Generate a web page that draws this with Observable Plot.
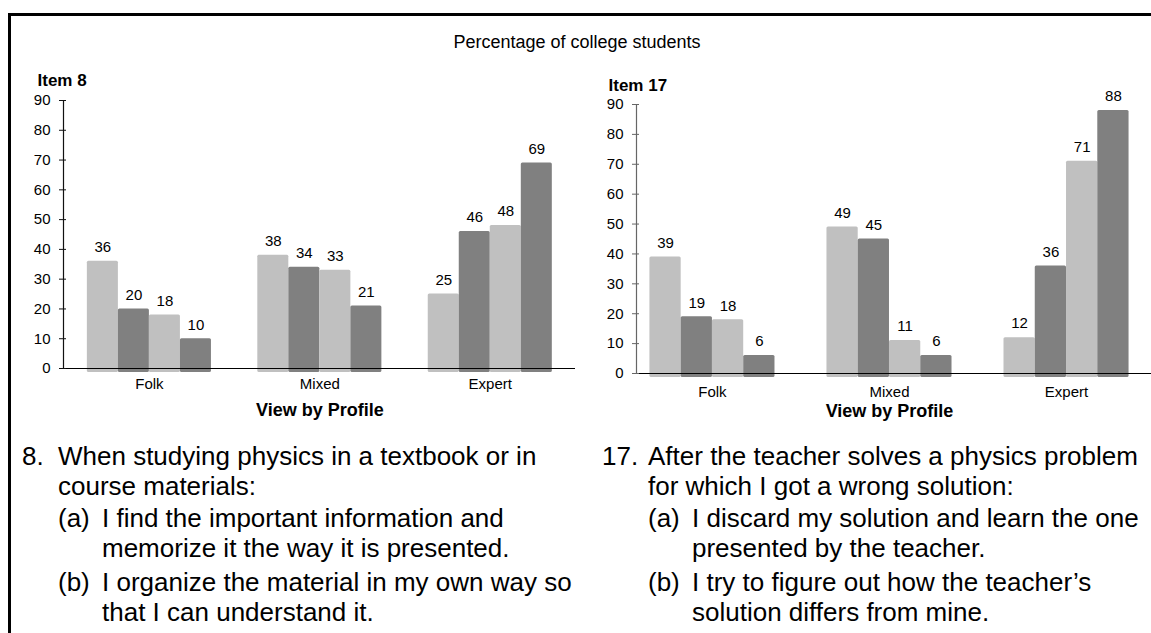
<!DOCTYPE html>
<html>
<head>
<meta charset="utf-8">
<script src="https://cdn.jsdelivr.net/npm/d3@7"></script>
<script src="https://cdn.jsdelivr.net/npm/@observablehq/plot@0.6"></script>
<style>
  html, body { margin: 0; padding: 0; background: #fff; }
  body { font-family: "Liberation Sans", Arial, sans-serif; color: #000; }
  #page { position: relative; width: 1151px; height: 633px; overflow: hidden; background: #fff; }
  #frame { position: absolute; left: 8px; top: 13px; width: 1200px; height: 700px;
           border-top: 3px solid #000; border-left: 3px solid #000; }
  #title { position: absolute; left: 0; width: 1154px; top: 31px; text-align: center; font-size: 18px; line-height: 22px; }
  .panel { position: absolute; top: 60px; }
  .line { position: absolute; font-size: 26px; line-height: 30px; white-space: nowrap; }
</style>
</head>
<body>
<div id="page">
  <div id="frame"></div>
  <div id="title"></div>
  <div id="left" class="panel" style="left:0px"></div>
  <div id="right" class="panel" style="left:580px"></div>
  <div id="text"></div>
</div>
<script>
// ---- data ----
const chartTitle = "Percentage of college students";
const xTitle = "View by Profile";
const profiles = ["Folk", "Mixed", "Expert"];
const yTicks = [0, 10, 20, 30, 40, 50, 60, 70, 80, 90];
const barColors = ["#c0c0c0", "#808080", "#c0c0c0", "#808080"];
// four bars per profile, values per profile (Folk, Mixed, Expert)
const item8Folk = [36, 20, 18, 10];
const item8Mixed = [38, 34, 33, 21];
const item8Expert = [25, 46, 48, 69];
const item17Folk = [39, 19, 18, 6];
const item17Mixed = [49, 45, 11, 6];
const item17Expert = [12, 36, 71, 88];

const question8 = [
  ["8.", "When studying physics in a textbook or in"],
  ["", "course materials:"]
];
const options8 = [
  ["(a)", "I find the important information and"],
  ["", "memorize it the way it is presented."],
  ["(b)", "I organize the material in my own way so"],
  ["", "that I can understand it."]
];
const question17 = [
  ["17.", "After the teacher solves a physics problem"],
  ["", "for which I got a wrong solution:"]
];
const options17 = [
  ["(a)", "I discard my solution and learn the one"],
  ["", "presented by the teacher."],
  ["(b)", "I try to figure out how the teacher\u2019s"],
  ["", "solution differs from mine."]
];

document.getElementById("title").textContent = chartTitle;

function rowsOf(groups) {
  const rows = [];
  groups.forEach((vals, pi) => vals.forEach((v, s) => rows.push({profile: profiles[pi], pi, s, value: v})));
  return rows;
}

function panel(cfg) {
  const rows = rowsOf(cfg.groups);
  const w = cfg.barW;
  const x0 = cfg.xDomain[0];
  return Plot.plot({
    width: cfg.width, height: cfg.height,
    marginLeft: cfg.marginLeft, marginRight: cfg.marginRight,
    marginTop: cfg.marginTop, marginBottom: cfg.marginBottom,
    style: {fontFamily: "'Liberation Sans', Arial, sans-serif", fontSize: "15px", color: "#000", background: "transparent", overflow: "visible"},
    x: {type: "linear", domain: cfg.xDomain, axis: null},
    y: {domain: [0, 90], axis: null},
    marks: [
      Plot.rectY(rows, {
        x1: d => d.pi + (d.s - 2) * w,
        x2: d => d.pi + (d.s - 1) * w,
        y1: 0, y2: "value",
        fill: d => barColors[d.s],
        insetBottom: -4, rx: 1.5
      }),
      Plot.ruleY([0], {stroke: "#000", strokeWidth: 1.2}),
      Plot.ruleX([x0], {stroke: cfg.axisColor, strokeWidth: 1.2}),
      Plot.axisY({ticks: yTicks, tickSize: 4, tickPadding: 9, stroke: cfg.axisColor, label: null, fontSize: 15}),
      Plot.ruleY(yTicks, {y: d => d, x1: x0, x2: x0, insetRight: -3, stroke: cfg.axisColor}),
      Plot.text(rows, {
        x: d => d.pi + (d.s - 1.5) * w,
        y: "value",
        text: d => String(d.value),
        dy: -14, lineAnchor: "middle", fontSize: 15
      }),
      Plot.axisX({ticks: [0, 1, 2], tickFormat: i => profiles[i], tickSize: 0, tickPadding: cfg.catPad, label: null, fontSize: 15}),
      Plot.text([xTitle], {x: 1, frameAnchor: "bottom", dy: cfg.titleDy, lineAnchor: "middle", fontWeight: "bold", fontSize: 18}),
      Plot.text([cfg.item], {frameAnchor: "top-left", dx: cfg.itemDx, dy: cfg.itemDy, textAnchor: "start", lineAnchor: "middle", fontWeight: "bold", fontSize: 17})
    ]
  });
}

document.getElementById("left").append(panel({
  groups: [item8Folk, item8Mixed, item8Expert],
  item: "Item 8",
  width: 580, height: 380, marginLeft: 63, marginRight: 5, marginTop: 40, marginBottom: 72,
  xDomain: [-0.504, 2.5], barW: 0.182, axisColor: "#111",
  catPad: 10, titleDy: 42, itemDx: -26, itemDy: -20
}));

document.getElementById("right").append(panel({
  groups: [item17Folk, item17Mixed, item17Expert],
  item: "Item 17",
  width: 571, height: 380, marginLeft: 56, marginRight: 0, marginTop: 44, marginBottom: 67,
  xDomain: [-0.429, 2.48], barW: 0.1766, axisColor: "#666",
  catPad: 13, titleDy: 38, itemDx: -28, itemDy: -19
}));

// question text
const textBox = document.getElementById("text");
function addLines(lines, centers, xNum, xText) {
  lines.forEach(([num, txt], i) => {
    if (num) {
      const n = document.createElement("div");
      n.className = "line"; n.textContent = num;
      n.style.left = xNum + "px"; n.style.top = (centers[i] - 15) + "px";
      textBox.append(n);
    }
    const t = document.createElement("div");
    t.className = "line"; t.textContent = txt;
    t.style.left = xText + "px"; t.style.top = (centers[i] - 15) + "px";
    textBox.append(t);
  });
}
addLines(question8, [456, 486], 22, 58);
addLines(options8, [518, 548, 582, 612], 58, 102);
addLines(question17, [456, 486], 602, 648);
addLines(options17, [518, 548, 582, 612], 648, 692);
</script>
</body>
</html>
